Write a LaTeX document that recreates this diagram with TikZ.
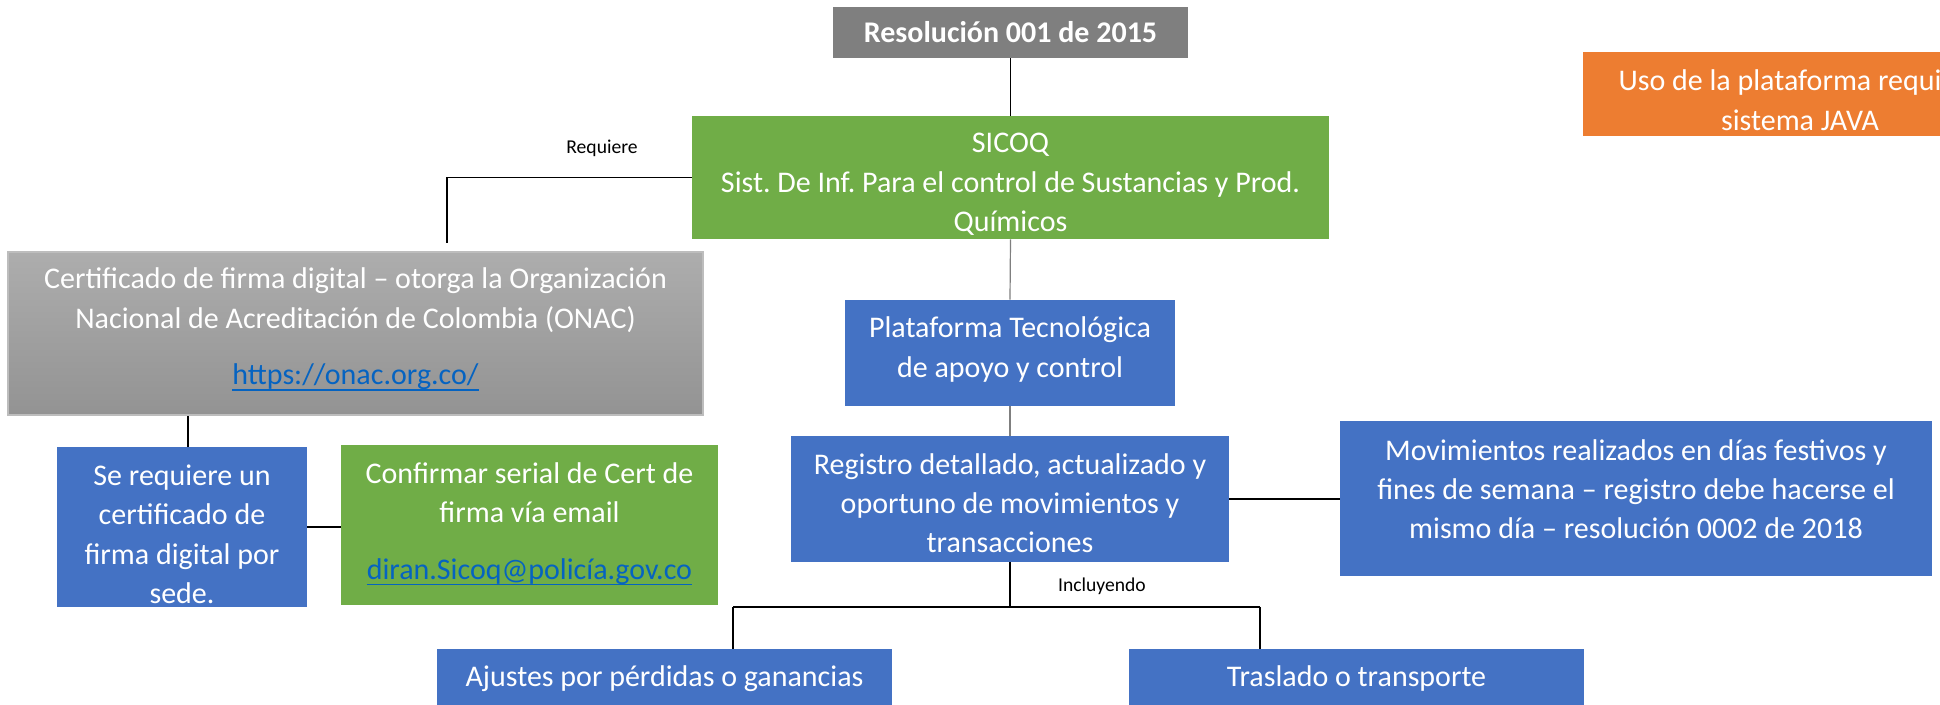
\documentclass[tikz,border=0pt]{standalone}
\usepackage{fontspec}
\setmainfont{Carlito}
\definecolor{offgray}{HTML}{7F7F7F}
\definecolor{offgreen}{HTML}{70AD47}
\definecolor{offblue}{HTML}{4472C4}
\definecolor{offorange}{HTML}{ED7D31}
\definecolor{linkblue}{HTML}{0563C1}
\definecolor{certtop}{HTML}{ADADAD}
\definecolor{certbottom}{HTML}{939393}
\definecolor{certedge}{HTML}{BDBDBD}
\newcommand{\weblink}[1]{\textcolor{linkblue}{\setbox0\hbox{#1}\rlap{\rule[-3pt]{\wd0}{0.9pt}}\box0}}
\frenchspacing

\begin{document}
\begin{tikzpicture}[x=0.5pt,y=-0.5pt,
        box/.style={fill=#1,text=white,align=center,anchor=base,inner xsep=0pt,inner ysep=0pt,
                font=\fontsize{15}{19.75}\selectfont},
        thinline/.style={line width=0.6pt},
        thickline/.style={line width=0.9pt},
        lbl/.style={font=\fontsize{9.8}{12}\selectfont}]

        \useasboundingbox (0,0) rectangle (1940,705);
        \clip (0,0) rectangle (1940,705);
        \fill[white] (0,0) rectangle (1940,705);

        \node[box=offgray,font=\fontsize{15}{19.75}\selectfont\bfseries,minimum width=177.5pt,text height=18pt,text depth=7.5pt] (res) at (1010.5,43) {Resolución 001 de 2015};
        \node[box=offgreen,minimum width=318.5pt,text height=58pt,text depth=3.5pt] (sicoq) at (1010.5,232) {SICOQ\\Sist. De Inf. Para el control de Sustancias y Prod.\\Químicos};
        \node[box=offorange,minimum width=217.5pt,text height=39.25pt,text depth=2.75pt] (java) at (1800,130.5) {Uso de la plataforma requiere\\sistema JAVA};

        \node[box=gray,top color=certtop,bottom color=certbottom,draw=certedge,line width=0.75pt,minimum width=347.5pt,text height=66.5pt,text depth=15pt] (cert) at (355.5,385) {Certificado de firma digital – otorga la Organización\\Nacional de Acreditación de Colombia (ONAC)\\[8.5pt]\weblink{https://onac.org.co/}};
        \node[box=offblue,minimum width=165pt,text height=38.75pt,text depth=14.25pt] (plat) at (1010,377.5) {Plataforma Tecnológica\\de apoyo y control};

        \node[box=offblue,minimum width=125pt,text height=78.25pt,text depth=1.75pt] (sede) at (182,603.5) {Se requiere un\\certificado de\\firma digital por\\sede.};
        \node[box=offgreen,minimum width=188.5pt,text height=67.25pt,text depth=12.75pt] (confirm) at (529.5,579.5) {Confirmar serial de Cert de\\firma vía email\\[8.5pt]\weblink{diran.Sicoq@policía.gov.co}};
        \node[box=offblue,minimum width=219pt,text height=58.5pt,text depth=4.5pt] (reg) at (1010,553) {Registro detallado, actualizado y\\oportuno de movimientos y\\transacciones};
        \node[box=offblue,minimum width=296pt,text height=59pt,text depth=18.5pt] (mov) at (1636,539) {Movimientos realizados en días festivos y\\fines de semana – registro debe hacerse el\\mismo día – resolución 0002 de 2018};

        \node[box=offblue,minimum width=227.5pt,text height=18.5pt,text depth=14.5pt] (ajustes) at (664.5,686) {Ajustes por pérdidas o ganancias};
        \node[box=offblue,minimum width=227.5pt,text height=18.5pt,text depth=14.5pt] (traslado) at (1356.5,686) {Traslado o transporte};

        \node[lbl] (requiere) at (602,148) {Requiere};
        \node[lbl] (incluyendo) at (1102,586) {Incluyendo};

        \draw[thinline] (res.south) -- (sicoq.north);
        \draw[thinline,offgray] (sicoq.south) -- (plat.north);
        \draw[thinline,offgray] (plat.south) -- (reg.north);

        \coordinate (certtop) at (447,243);
        \draw[thickline] (sicoq.west) -| (certtop);
        \draw[thinline] ([xshift=3pt]sede.north) -- ([xshift=3pt]sede.north |- cert.south);
        \draw[thickline] (sede.east) -- (sede.east -| confirm.west);
        \draw[thickline] (reg.east) -- (reg.east -| mov.west);

        \coordinate (incl) at (1010,607);
        \coordinate (inclL) at (733,607);
        \coordinate (inclR) at (1260,607);
        \draw[thickline] (reg.south) -- (incl);
        \draw[thickline] (inclL) -- (inclR);
        \draw[thickline] (inclL) -- (inclL |- ajustes.north);
        \draw[thinline] (inclR) -- (inclR |- traslado.north);

\end{tikzpicture}
\end{document}
